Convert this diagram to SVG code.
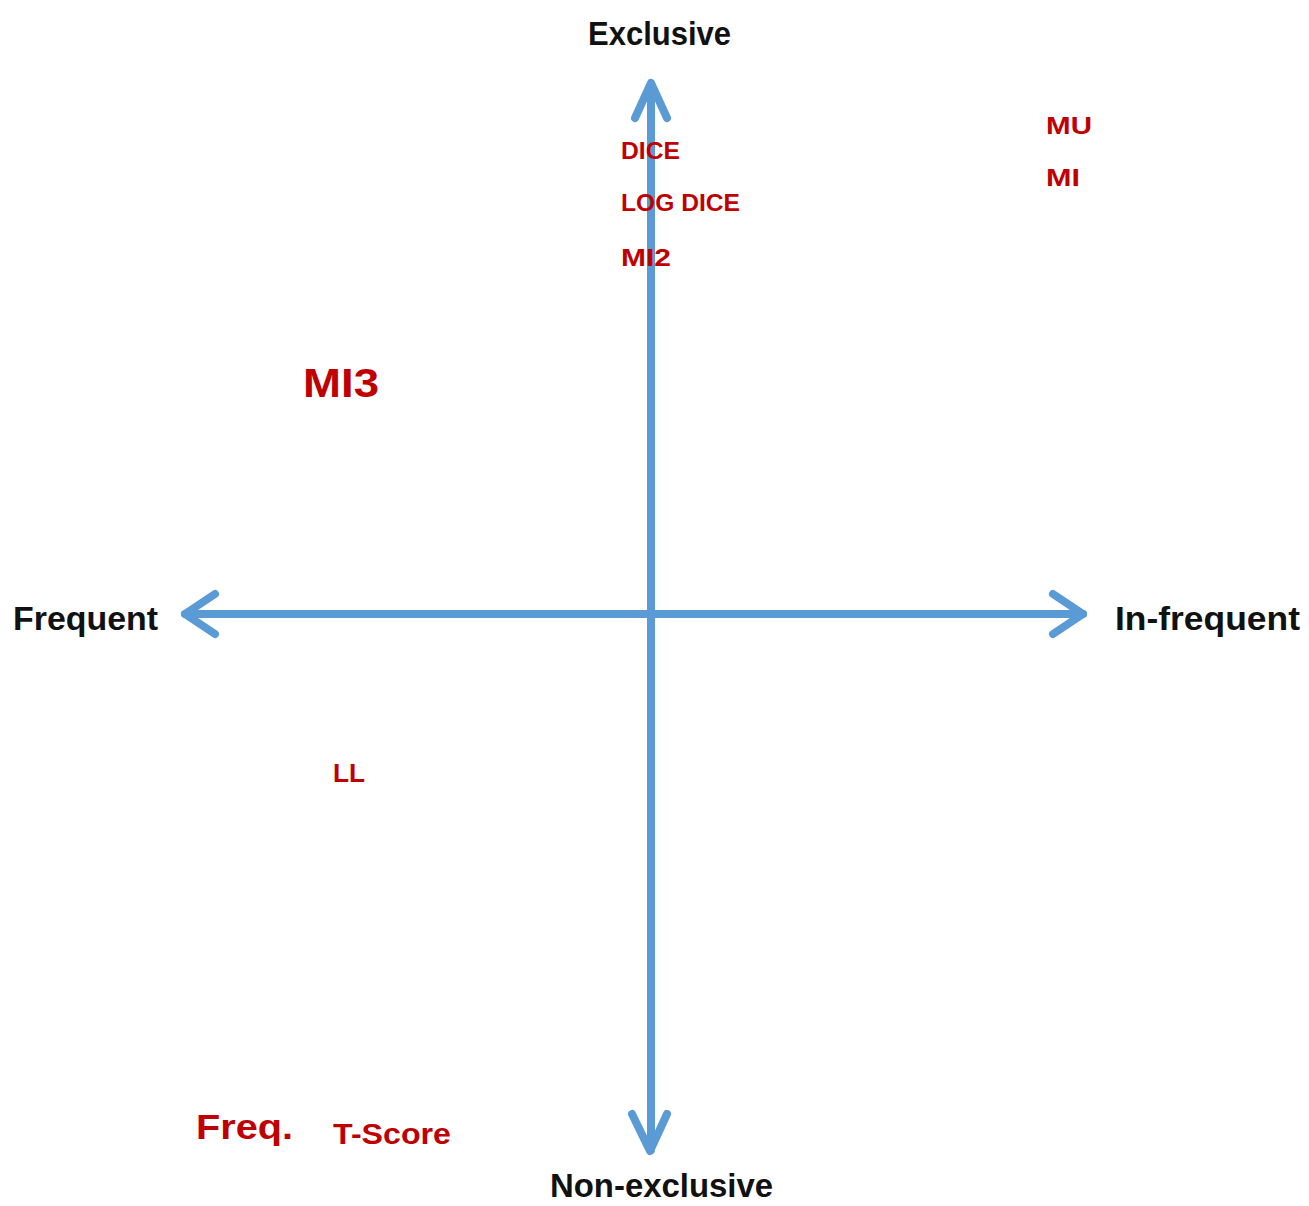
<svg xmlns="http://www.w3.org/2000/svg" width="1309" height="1206" viewBox="0 0 1309 1206">
<style>
.ax{stroke:#5B9BD5;stroke-width:8;fill:none;stroke-linecap:round;stroke-linejoin:round}
.lbl{font-family:"Liberation Sans",Arial,sans-serif;font-weight:bold;fill:#111}
.m{font-family:"Liberation Sans",Arial,sans-serif;font-weight:bold;fill:#C00000}
</style>
<rect width="1309" height="1206" fill="#fff"/>
<g id="connectors">
<path class="ax" d="M651 84 V1150"/>
<path class="ax" d="M635 118 L651 83 L667 118"/>
<path class="ax" d="M632 1114 L650 1151 L667 1114"/>
<path class="ax" d="M185 614 H1083"/>
<path class="ax" d="M215 594 L185 614 L215 634"/>
<path class="ax" d="M1053 594 L1083 614 L1053 634"/>
</g>
<g id="exclusive"><text class="lbl" x="588" y="45" font-size="33" textLength="143" lengthAdjust="spacingAndGlyphs">Exclusive</text></g>
<g id="non-exclusive"><text class="lbl" x="550" y="1197" font-size="33" textLength="223" lengthAdjust="spacingAndGlyphs">Non-exclusive</text></g>
<g id="frequent"><text class="lbl" x="13" y="630" font-size="33" textLength="145" lengthAdjust="spacingAndGlyphs">Frequent</text></g>
<g id="in-frequent"><text class="lbl" x="1115" y="630" font-size="33" textLength="185" lengthAdjust="spacingAndGlyphs">In-frequent</text></g>
<g id="dice"><text class="m" x="621" y="159" font-size="23" textLength="59" lengthAdjust="spacingAndGlyphs">DICE</text></g>
<g id="log-dice"><text class="m" x="621" y="211" font-size="23" textLength="119" lengthAdjust="spacingAndGlyphs">LOG DICE</text></g>
<g id="mi2"><text class="m" x="621" y="266" font-size="23" textLength="50" lengthAdjust="spacingAndGlyphs">MI2</text></g>
<g id="mu"><text class="m" x="1046" y="134" font-size="23" textLength="46" lengthAdjust="spacingAndGlyphs">MU</text></g>
<g id="mi"><text class="m" x="1046" y="186" font-size="23" textLength="34" lengthAdjust="spacingAndGlyphs">MI</text></g>
<g id="mi3"><text class="m" x="303" y="397" font-size="40" textLength="76" lengthAdjust="spacingAndGlyphs">MI3</text></g>
<g id="ll"><text class="m" x="333" y="782" font-size="26" textLength="32" lengthAdjust="spacingAndGlyphs">LL</text></g>
<g id="freq"><text class="m" x="196" y="1139" font-size="35" textLength="97" lengthAdjust="spacingAndGlyphs">Freq.</text></g>
<g id="t-score"><text class="m" x="333" y="1144" font-size="29" textLength="118" lengthAdjust="spacingAndGlyphs">T-Score</text></g>
</svg>
